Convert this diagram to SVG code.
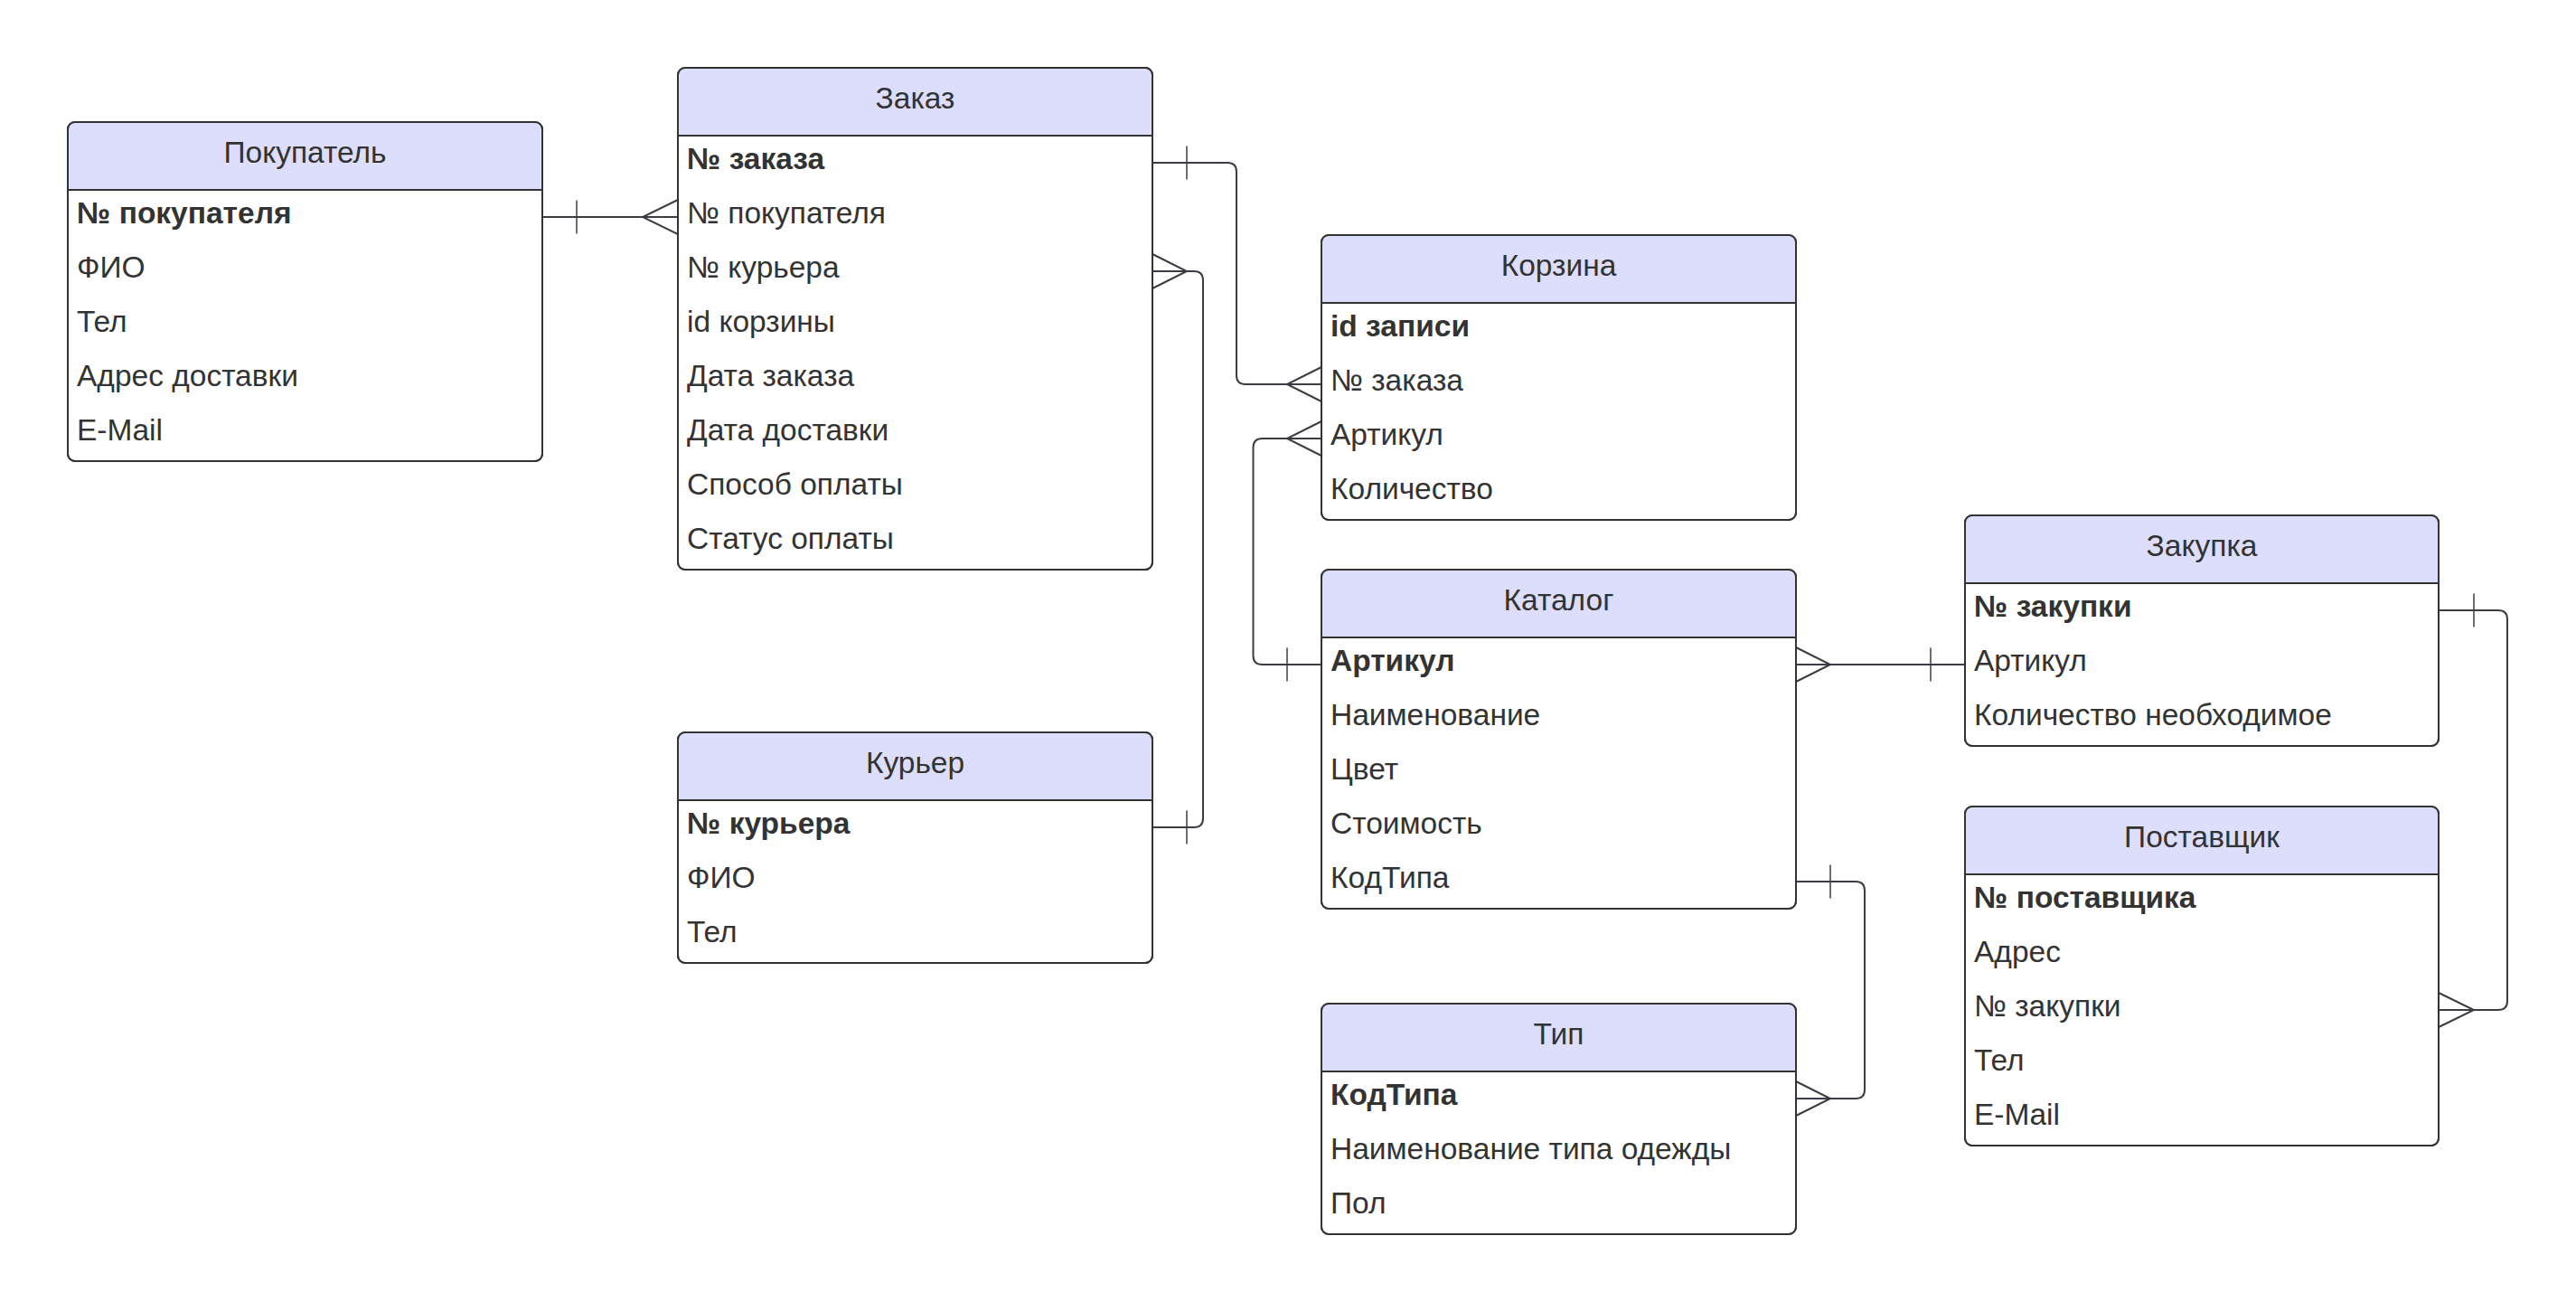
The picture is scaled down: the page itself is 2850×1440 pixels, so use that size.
<svg xmlns="http://www.w3.org/2000/svg" width="2850" height="1440" viewBox="0 0 2850 1440">
<style>
.bg{fill:#ffffff}
.box{fill:#ffffff;stroke:#333333;stroke-width:2}
.outline{fill:none;stroke:#333333;stroke-width:2}
.hdr{fill:#dddefb;stroke:none}
.sep{stroke:#333333;stroke-width:2}
.ht{font-family:"Liberation Sans",Arial,sans-serif;font-size:33.5px;fill:#333333;text-anchor:middle}
.rt{font-family:"Liberation Sans",Arial,sans-serif;font-size:33.5px;fill:#333333}
.pk{font-weight:bold}
.conn{fill:none;stroke:#3a3d44;stroke-width:2}
.bar{fill:none;stroke:#3a3d44;stroke-width:1.5}
</style>
<rect class="bg" x="0" y="0" width="2850" height="1440"/>

<g id="connectors">
  <!-- Покупатель -> Заказ -->
  <path class="conn" d="M600,240 H750"/>
  <path class="bar" d="M638,221.5 V258.5"/>
  <path class="conn" d="M750,221 L711,240 L750,259"/>
  <!-- Заказ -> Корзина -->
  <path class="conn" d="M1275,180 H1358 Q1368,180 1368,190 V415 Q1368,425 1378,425 H1462"/>
  <path class="bar" d="M1313,161.5 V198.5"/>
  <path class="conn" d="M1462,406 L1424,425 L1462,444"/>
  <!-- Курьер -> Заказ -->
  <path class="conn" d="M1275,300 H1321 Q1331,300 1331,310 V905 Q1331,915 1321,915 H1275"/>
  <path class="conn" d="M1275,281 L1313,300 L1275,319"/>
  <path class="bar" d="M1313,896.5 V933.5"/>
  <!-- Каталог -> Корзина -->
  <path class="conn" d="M1462,485 H1396.5 Q1386.5,485 1386.5,495 V725 Q1386.5,735 1396.5,735 H1462"/>
  <path class="conn" d="M1462,466 L1424,485 L1462,504"/>
  <path class="bar" d="M1424,716.5 V753.5"/>
  <!-- Каталог -> Закупка -->
  <path class="conn" d="M1987,735 H2174"/>
  <path class="conn" d="M1987,716 L2025,735 L1987,754"/>
  <path class="bar" d="M2136,716.5 V753.5"/>
  <!-- Закупка -> Поставщик -->
  <path class="conn" d="M2698,675 H2764 Q2774,675 2774,685 V1107 Q2774,1117 2764,1117 H2698"/>
  <path class="bar" d="M2737,656.5 V693.5"/>
  <path class="conn" d="M2698,1098 L2737,1117 L2698,1136"/>
  <!-- Каталог -> Тип -->
  <path class="conn" d="M1987,975 H2053 Q2063,975 2063,985 V1205 Q2063,1215 2053,1215 H1987"/>
  <path class="bar" d="M2025,956.5 V993.5"/>
  <path class="conn" d="M1987,1196 L2025,1215 L1987,1234"/>
</g>

<g id="pokupatel">
  <rect class="box" x="75" y="135" width="525" height="375" rx="8"/>
  <path class="hdr" d="M76,210 V143 Q76,136 83,136 H592 Q599,136 599,143 V210 Z"/>
  <line class="sep" x1="75" y1="210" x2="600" y2="210"/>
  <rect class="outline" x="75" y="135" width="525" height="375" rx="8"/>
  <text class="ht" x="337.5" y="180">Покупатель</text>
  <text class="rt pk" x="85" y="247">№ покупателя</text>
  <text class="rt" x="85" y="307">ФИО</text>
  <text class="rt" x="85" y="367">Тел</text>
  <text class="rt" x="85" y="427">Адрес доставки</text>
  <text class="rt" x="85" y="487">E-Mail</text>
</g>

<g id="zakaz">
  <rect class="box" x="750" y="75" width="525" height="555" rx="8"/>
  <path class="hdr" d="M751,150 V83 Q751,76 758,76 H1267 Q1274,76 1274,83 V150 Z"/>
  <line class="sep" x1="750" y1="150" x2="1275" y2="150"/>
  <rect class="outline" x="750" y="75" width="525" height="555" rx="8"/>
  <text class="ht" x="1012.5" y="120">Заказ</text>
  <text class="rt pk" x="760" y="187">№ заказа</text>
  <text class="rt" x="760" y="247">№ покупателя</text>
  <text class="rt" x="760" y="307">№ курьера</text>
  <text class="rt" x="760" y="367">id корзины</text>
  <text class="rt" x="760" y="427">Дата заказа</text>
  <text class="rt" x="760" y="487">Дата доставки</text>
  <text class="rt" x="760" y="547">Способ оплаты</text>
  <text class="rt" x="760" y="607">Статус оплаты</text>
</g>

<g id="kurier">
  <rect class="box" x="750" y="810" width="525" height="255" rx="8"/>
  <path class="hdr" d="M751,885 V818 Q751,811 758,811 H1267 Q1274,811 1274,818 V885 Z"/>
  <line class="sep" x1="750" y1="885" x2="1275" y2="885"/>
  <rect class="outline" x="750" y="810" width="525" height="255" rx="8"/>
  <text class="ht" x="1012.5" y="855">Курьер</text>
  <text class="rt pk" x="760" y="922">№ курьера</text>
  <text class="rt" x="760" y="982">ФИО</text>
  <text class="rt" x="760" y="1042">Тел</text>
</g>

<g id="korzina">
  <rect class="box" x="1462" y="260" width="525" height="315" rx="8"/>
  <path class="hdr" d="M1463,335 V268 Q1463,261 1470,261 H1979 Q1986,261 1986,268 V335 Z"/>
  <line class="sep" x1="1462" y1="335" x2="1987" y2="335"/>
  <rect class="outline" x="1462" y="260" width="525" height="315" rx="8"/>
  <text class="ht" x="1724.5" y="305">Корзина</text>
  <text class="rt pk" x="1472" y="372">id записи</text>
  <text class="rt" x="1472" y="432">№ заказа</text>
  <text class="rt" x="1472" y="492">Артикул</text>
  <text class="rt" x="1472" y="552">Количество</text>
</g>

<g id="katalog">
  <rect class="box" x="1462" y="630" width="525" height="375" rx="8"/>
  <path class="hdr" d="M1463,705 V638 Q1463,631 1470,631 H1979 Q1986,631 1986,638 V705 Z"/>
  <line class="sep" x1="1462" y1="705" x2="1987" y2="705"/>
  <rect class="outline" x="1462" y="630" width="525" height="375" rx="8"/>
  <text class="ht" x="1724.5" y="675">Каталог</text>
  <text class="rt pk" x="1472" y="742">Артикул</text>
  <text class="rt" x="1472" y="802">Наименование</text>
  <text class="rt" x="1472" y="862">Цвет</text>
  <text class="rt" x="1472" y="922">Стоимость</text>
  <text class="rt" x="1472" y="982">КодТипа</text>
</g>

<g id="tip">
  <rect class="box" x="1462" y="1110" width="525" height="255" rx="8"/>
  <path class="hdr" d="M1463,1185 V1118 Q1463,1111 1470,1111 H1979 Q1986,1111 1986,1118 V1185 Z"/>
  <line class="sep" x1="1462" y1="1185" x2="1987" y2="1185"/>
  <rect class="outline" x="1462" y="1110" width="525" height="255" rx="8"/>
  <text class="ht" x="1724.5" y="1155">Тип</text>
  <text class="rt pk" x="1472" y="1222">КодТипа</text>
  <text class="rt" x="1472" y="1282">Наименование типа одежды</text>
  <text class="rt" x="1472" y="1342">Пол</text>
</g>

<g id="zakupka">
  <rect class="box" x="2174" y="570" width="524" height="255" rx="8"/>
  <path class="hdr" d="M2175,645 V578 Q2175,571 2182,571 H2690 Q2697,571 2697,578 V645 Z"/>
  <line class="sep" x1="2174" y1="645" x2="2698" y2="645"/>
  <rect class="outline" x="2174" y="570" width="524" height="255" rx="8"/>
  <text class="ht" x="2436" y="615">Закупка</text>
  <text class="rt pk" x="2184" y="682">№ закупки</text>
  <text class="rt" x="2184" y="742">Артикул</text>
  <text class="rt" x="2184" y="802">Количество необходимое</text>
</g>

<g id="postavshik">
  <rect class="box" x="2174" y="892" width="524" height="375" rx="8"/>
  <path class="hdr" d="M2175,967 V900 Q2175,893 2182,893 H2690 Q2697,893 2697,900 V967 Z"/>
  <line class="sep" x1="2174" y1="967" x2="2698" y2="967"/>
  <rect class="outline" x="2174" y="892" width="524" height="375" rx="8"/>
  <text class="ht" x="2436" y="937">Поставщик</text>
  <text class="rt pk" x="2184" y="1004">№ поставщика</text>
  <text class="rt" x="2184" y="1064">Адрес</text>
  <text class="rt" x="2184" y="1124">№ закупки</text>
  <text class="rt" x="2184" y="1184">Тел</text>
  <text class="rt" x="2184" y="1244">E-Mail</text>
</g>
</svg>
